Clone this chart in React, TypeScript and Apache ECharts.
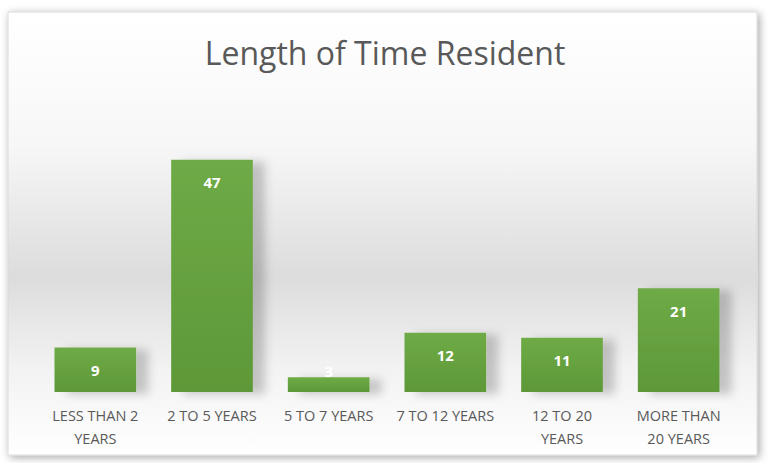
import React, { useEffect, useRef } from "react";
import * as echarts from "echarts";

const categories = [
  "LESS THAN 2\nYEARS",
  "2 TO 5 YEARS",
  "5 TO 7 YEARS",
  "7 TO 12 YEARS",
  "12 TO 20\nYEARS",
  "MORE THAN\n20 YEARS",
];
const values = [9, 47, 3, 12, 11, 21];
const titleText = "Length of Time Resident";

export default function App() {
  const ref = useRef<HTMLDivElement>(null);
  useEffect(() => {
    document.body.style.margin = "0";
    const chart = echarts.init(ref.current!, null, { renderer: "svg" });
    chart.setOption({
      animation: false,
      backgroundColor: "#ffffff",
      graphic: [
        {
          type: "rect",
          z: -10,
          silent: true,
          shape: { x: 8, y: 12, width: 749, height: 443 },
          style: {
            fill: new echarts.graphic.LinearGradient(0, 0, 0, 1, [
              { offset: 0, color: "#ffffff" },
              { offset: 0.3, color: "#f7f7f7" },
              { offset: 0.6, color: "#dcdcdc" },
              { offset: 0.8, color: "#f2f2f2" },
              { offset: 1, color: "#ffffff" },
            ]),
            stroke: "#d9d9d9",
            lineWidth: 1,
            shadowBlur: 8,
            shadowColor: "rgba(0,0,0,0.35)",
            shadowOffsetX: 2,
            shadowOffsetY: 2,
          },
        },
      ],
      title: {
        text: titleText,
        left: "center",
        top: 31,
        textStyle: {
          fontFamily: "Open Sans",
          fontWeight: "normal",
          fontSize: 32,
          color: "#595959",
        },
      },
      grid: { left: 37, right: 33, top: 145, bottom: 71, containLabel: false },
      xAxis: {
        type: "category",
        data: categories,
        axisLine: { show: false },
        axisTick: { show: false },
        axisLabel: {
          color: "#595959",
          fontFamily: "Open Sans",
          fontSize: 14.5,
          margin: 12,
          lineHeight: 23,
          interval: 0,
        },
      },
      yAxis: {
        type: "value",
        min: 0,
        max: 50,
        show: false,
      },
      series: [
        {
          type: "bar",
          data: values.map((v, i) =>
            i === 2
              ? { value: v, label: { position: "insideBottom", distance: 14 } }
              : v
          ),
          barCategoryGap: "30%",
          itemStyle: {
            color: new echarts.graphic.LinearGradient(0, 0, 0, 1, [
              { offset: 0, color: "#6eab46" },
              { offset: 1, color: "#5d9838" },
            ]),
            shadowBlur: 10,
            shadowColor: "rgba(0,0,0,0.2)",
            shadowOffsetX: 12,
            shadowOffsetY: 2,
          },
          label: {
            show: true,
            position: "insideTop",
            distance: 15,
            color: "#ffffff",
            fontFamily: "Open Sans",
            fontWeight: "bold",
            fontSize: 15,
          },
        },
      ],
    });
    return () => chart.dispose();
  }, []);
  return <div ref={ref} style={{ width: 770, height: 463 }} />;
}
